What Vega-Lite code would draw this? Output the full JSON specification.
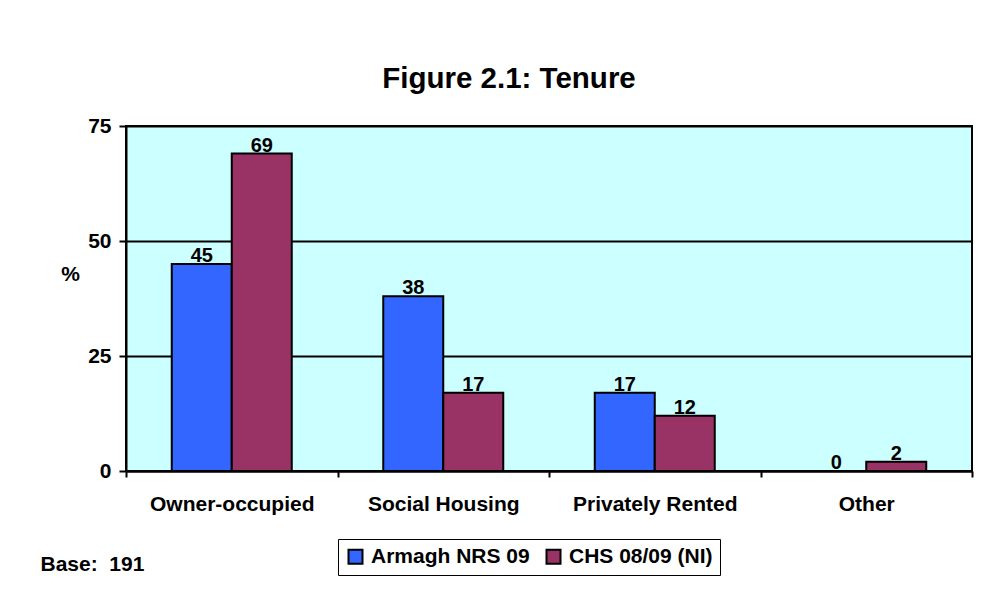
{
  "$schema": "https://vega.github.io/schema/vega-lite/v6.json",
  "width": 846,
  "height": 345,
  "autosize": "none",
  "padding": {"left": 126, "top": 126, "right": 35, "bottom": 123},
  "background": "white",
  "title": {
    "text": "Figure 2.1: Tenure",
    "font": "Liberation Sans",
    "fontSize": 29.5,
    "fontWeight": "bold",
    "color": "black",
    "anchor": "middle",
    "dx": -40,
    "offset": -2,
    "baseline": "alphabetic"
  },
  "data": {
    "values": [
      {"tenure": "Owner-occupied", "survey": "Armagh NRS 09", "pct": 45},
      {"tenure": "Owner-occupied", "survey": "CHS 08/09 (NI)", "pct": 69},
      {"tenure": "Social Housing", "survey": "Armagh NRS 09", "pct": 38},
      {"tenure": "Social Housing", "survey": "CHS 08/09 (NI)", "pct": 17},
      {"tenure": "Privately Rented", "survey": "Armagh NRS 09", "pct": 17},
      {"tenure": "Privately Rented", "survey": "CHS 08/09 (NI)", "pct": 12},
      {"tenure": "Other", "survey": "Armagh NRS 09", "pct": 0},
      {"tenure": "Other", "survey": "CHS 08/09 (NI)", "pct": 2}
    ]
  },
  "encoding": {
    "x": {
      "field": "tenure",
      "type": "nominal",
      "sort": ["Owner-occupied", "Social Housing", "Privately Rented", "Other"],
      "scale": {"paddingInner": 0, "paddingOuter": 0},
      "axis": {
        "title": "Base: \u00a0191",
        "titleFont": "Liberation Sans",
        "titleFontSize": 21,
        "titleFontWeight": "bold",
        "titleColor": "black",
        "titleAnchor": "start",
        "titleAlign": "left",
        "titleBaseline": "alphabetic",
        "titleX": -86,
        "titleY": 99,
        "labelAngle": 0,
        "labelFont": "Liberation Sans",
        "labelFontSize": 21,
        "labelFontWeight": "bold",
        "labelColor": "black",
        "labelPadding": 16,
        "tickBand": "extent",
        "tickColor": "black",
        "tickWidth": 2,
        "tickSize": 6,
        "domainColor": "black",
        "domainWidth": 2,
        "grid": false
      }
    },
    "xOffset": {
      "field": "survey",
      "type": "nominal",
      "sort": ["Armagh NRS 09", "CHS 08/09 (NI)"],
      "scale": {"paddingInner": 0, "paddingOuter": 0.7625}
    },
    "y": {
      "field": "pct",
      "type": "quantitative",
      "scale": {"domain": [0, 75], "nice": false},
      "axis": {
        "title": "%",
        "titleAngle": 0,
        "titleFont": "Liberation Sans",
        "titleFontSize": 21,
        "titleFontWeight": "bold",
        "titleColor": "black",
        "titleAlign": "center",
        "titleBaseline": "middle",
        "titleX": -56,
        "titleY": 148,
        "values": [0, 25, 50, 75],
        "labelFont": "Liberation Sans",
        "labelFontSize": 21,
        "labelFontWeight": "bold",
        "labelColor": "black",
        "labelPadding": 8,
        "tickColor": "black",
        "tickWidth": 2,
        "tickSize": 7,
        "domainColor": "black",
        "domainWidth": 2,
        "grid": true,
        "gridColor": "black",
        "gridWidth": 2,
        "gridOpacity": 1
      }
    }
  },
  "layer": [
    {
      "mark": {"type": "bar", "stroke": "black", "strokeWidth": 2},
      "encoding": {
        "color": {
          "field": "survey",
          "type": "nominal",
          "sort": ["Armagh NRS 09", "CHS 08/09 (NI)"],
          "scale": {"domain": ["Armagh NRS 09", "CHS 08/09 (NI)"], "range": ["#3366FF", "#993366"]},
          "legend": {
            "title": null,
            "orient": "none",
            "direction": "horizontal",
            "legendX": 212,
            "legendY": 413,
            "symbolType": "square",
            "symbolSize": 196,
            "symbolStrokeColor": "black",
            "symbolStrokeWidth": 2,
            "symbolOpacity": 1,
            "labelFont": "Liberation Sans",
            "labelFontSize": 21,
            "labelFontWeight": "bold",
            "labelColor": "black",
            "labelOffset": 5,
            "columnPadding": 12,
            "strokeColor": "black",
            "padding": 7
          }
        }
      }
    },
    {
      "mark": {
        "type": "text",
        "baseline": "alphabetic",
        "dy": -2,
        "font": "Liberation Sans",
        "fontSize": 20,
        "fontWeight": "bold",
        "color": "black"
      },
      "encoding": {
        "text": {"field": "pct", "type": "quantitative"}
      }
    }
  ],
  "config": {
    "view": {"fill": "#CCFFFF", "stroke": "black", "strokeWidth": 2}
  }
}
